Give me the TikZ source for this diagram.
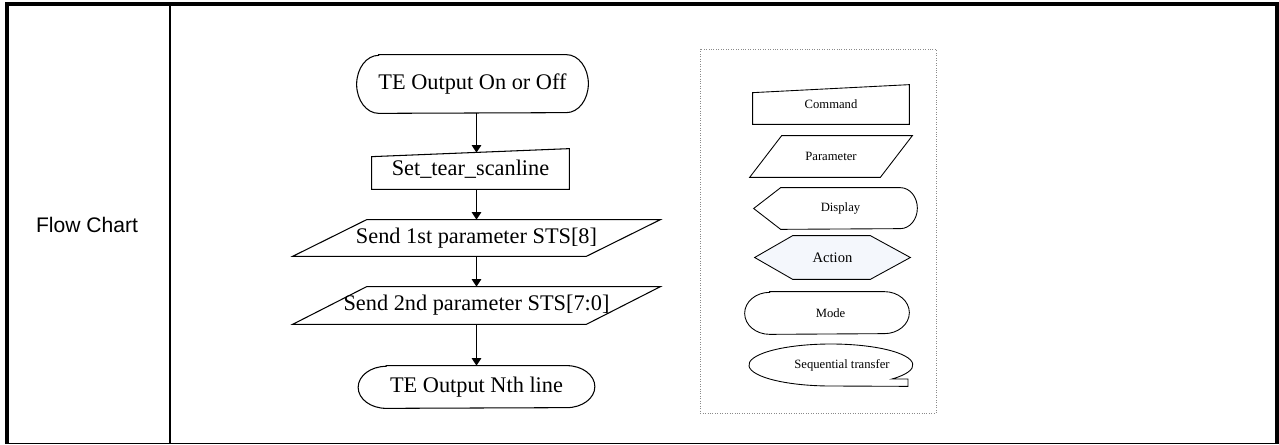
\documentclass[tikz,border=0pt]{standalone}
\usepackage{fontspec}
\setmainfont{Liberation Serif}
\newfontfamily\arial{Liberation Sans}
\usetikzlibrary{arrows.meta,positioning,calc,backgrounds}
\definecolor{accion}{HTML}{F4F7FC}
\definecolor{punteado}{HTML}{8A8A8A}

\begin{document}
\begin{tikzpicture}[
  font=\fontsize{12.7}{15}\selectfont,
  paso/.style={inner sep=0pt,align=center},
  leyenda/.style={inner sep=0pt,align=center,font=\fontsize{7.2}{9}\selectfont},
  contorno/.style={draw=black,line width=0.6pt},
  fino/.style={draw=black,line width=0.5pt},
  flecha/.style={-{Triangle[length=1.5mm,width=1.9mm]},line width=0.6pt},
  marco/.style={line width=0.08cm}]
\useasboundingbox (0,0) rectangle (25.58,-8.90);
% tabla
\draw[marco] (0.14,-8.87) -- (0.14,-0.08) -- (25.54,-0.08) -- (25.54,-8.87);
\draw[line width=0.6pt] (0.10,-8.87) -- (25.58,-8.87);
\draw[line width=0.04cm] (3.40,-0.08) -- (3.40,-8.87);
\node[font=\arial\fontsize{12}{14}\selectfont] (titulo) at (1.74,-4.50) {Flow Chart};
% diagrama
\node[paso,minimum width=4.62cm,minimum height=1.16cm] (inicio) at (9.45,-1.68) {TE Output On or Off};
\node[paso,minimum width=3.94cm,minimum height=0.80cm] (tear) at (9.41,-3.38) {Set\_tear\_scanline};
\node[paso,minimum width=7.34cm,minimum height=0.72cm] (sts8) at (9.53,-4.76) {Send 1st parameter STS[8]};
\node[paso,minimum width=7.34cm,minimum height=0.74cm] (sts70) at (9.53,-6.11) {Send 2nd parameter STS[7:0]};
\node[paso,minimum width=4.72cm,minimum height=0.84cm] (fin) at (9.53,-7.74) {TE Output Nth line};
\draw[contorno] ([xshift=0.44cm]inicio.north west) -- ([xshift=-0.44cm]inicio.north east)
  arc[start angle=90,end angle=-90,x radius=0.44cm,y radius=0.58cm] -- ([xshift=0.44cm]inicio.south west)
  arc[start angle=270,end angle=90,x radius=0.44cm,y radius=0.58cm] -- cycle;
\draw[contorno] (tear.south west) -- ([yshift=-0.16cm]tear.north west) -- (tear.north east) -- (tear.south east) -- cycle;
\draw[contorno] ([xshift=1.48cm]sts8.north west) -- (sts8.north east) -- ([xshift=-1.48cm]sts8.south east) -- (sts8.south west) -- cycle;
\draw[contorno] ([xshift=1.48cm]sts70.north west) -- (sts70.north east) -- ([xshift=-1.48cm]sts70.south east) -- (sts70.south west) -- cycle;
\draw[contorno] ([xshift=0.56cm]fin.north west) -- ([xshift=-0.56cm]fin.north east)
  arc[start angle=90,end angle=-90,x radius=0.56cm,y radius=0.42cm] -- ([xshift=0.56cm]fin.south west)
  arc[start angle=270,end angle=90,x radius=0.56cm,y radius=0.42cm] -- cycle;
\draw[flecha] (inicio.south -| sts8) -- ($(tear.north -| sts8)+(0,-0.08)$);
\draw[flecha] (tear.south -| sts8) -- (sts8.north);
\draw[flecha] (sts8) -- (sts70);
\draw[flecha] (sts70) -- (fin);
% leyenda
\draw[densely dotted,punteado,line width=0.4pt] (14.00,-0.98) rectangle (18.72,-8.26);
\node[leyenda,minimum width=3.12cm,minimum height=0.78cm] (comando) at (16.62,-2.09) {Command};
\node[leyenda,minimum width=3.24cm,minimum height=0.82cm] (parametro) at (16.62,-3.13) {Parameter};
\node[leyenda,minimum width=3.26cm,minimum height=0.82cm] (pantalla) at (16.71,-4.17) {\hspace*{0.2cm}Display};
\node[leyenda,font=\fontsize{8.3}{10}\selectfont,minimum width=3.10cm,minimum height=0.86cm] (accion) at (16.65,-5.15) {Action};
\node[leyenda,minimum width=3.28cm,minimum height=0.84cm] (modo) at (16.54,-6.26) {\hspace*{0.14cm}Mode};
\node[leyenda,minimum width=3.28cm,minimum height=0.84cm] (secuencial) at (16.62,-7.30) {\hspace*{0.44cm}Sequential transfer};
\draw[fino] (comando.south west) -- ([yshift=-0.16cm]comando.north west) -- (comando.north east) -- (comando.south east) -- cycle;
\draw[fino] ([xshift=0.64cm]parametro.north west) -- (parametro.north east) -- ([xshift=-0.64cm]parametro.south east) -- (parametro.south west) -- cycle;
\draw[fino] (pantalla.west) -- ([xshift=0.54cm]pantalla.north west) -- ([xshift=-0.34cm]pantalla.north east)
  arc[start angle=90,end angle=-90,x radius=0.34cm,y radius=0.41cm] -- ([xshift=0.54cm]pantalla.south west) -- cycle;
\begin{scope}[on background layer]
\draw[fino,fill=accion] (accion.west) -- ([xshift=0.76cm]accion.north west) -- ([xshift=-0.80cm]accion.north east) -- (accion.east)
  -- ([xshift=-0.80cm]accion.south east) -- ([xshift=0.76cm]accion.south west) -- cycle;
\end{scope}
\draw[fino] ([xshift=0.50cm]modo.north west) -- ([xshift=-0.50cm]modo.north east)
  arc[start angle=90,end angle=-90,x radius=0.50cm,y radius=0.42cm] -- ([xshift=0.50cm]modo.south west)
  arc[start angle=270,end angle=90,x radius=0.50cm,y radius=0.42cm] -- cycle;
\draw[fino] ([shift={(1.22cm,-0.28cm)}]secuencial.center)
  arc[start angle=-41.8,end angle=270,x radius=1.64cm,y radius=0.42cm] -- ([xshift=1.54cm]secuencial.south)
  -- ([shift={(1.54cm,-0.28cm)}]secuencial.center) -- cycle;
\end{tikzpicture}
\end{document}
